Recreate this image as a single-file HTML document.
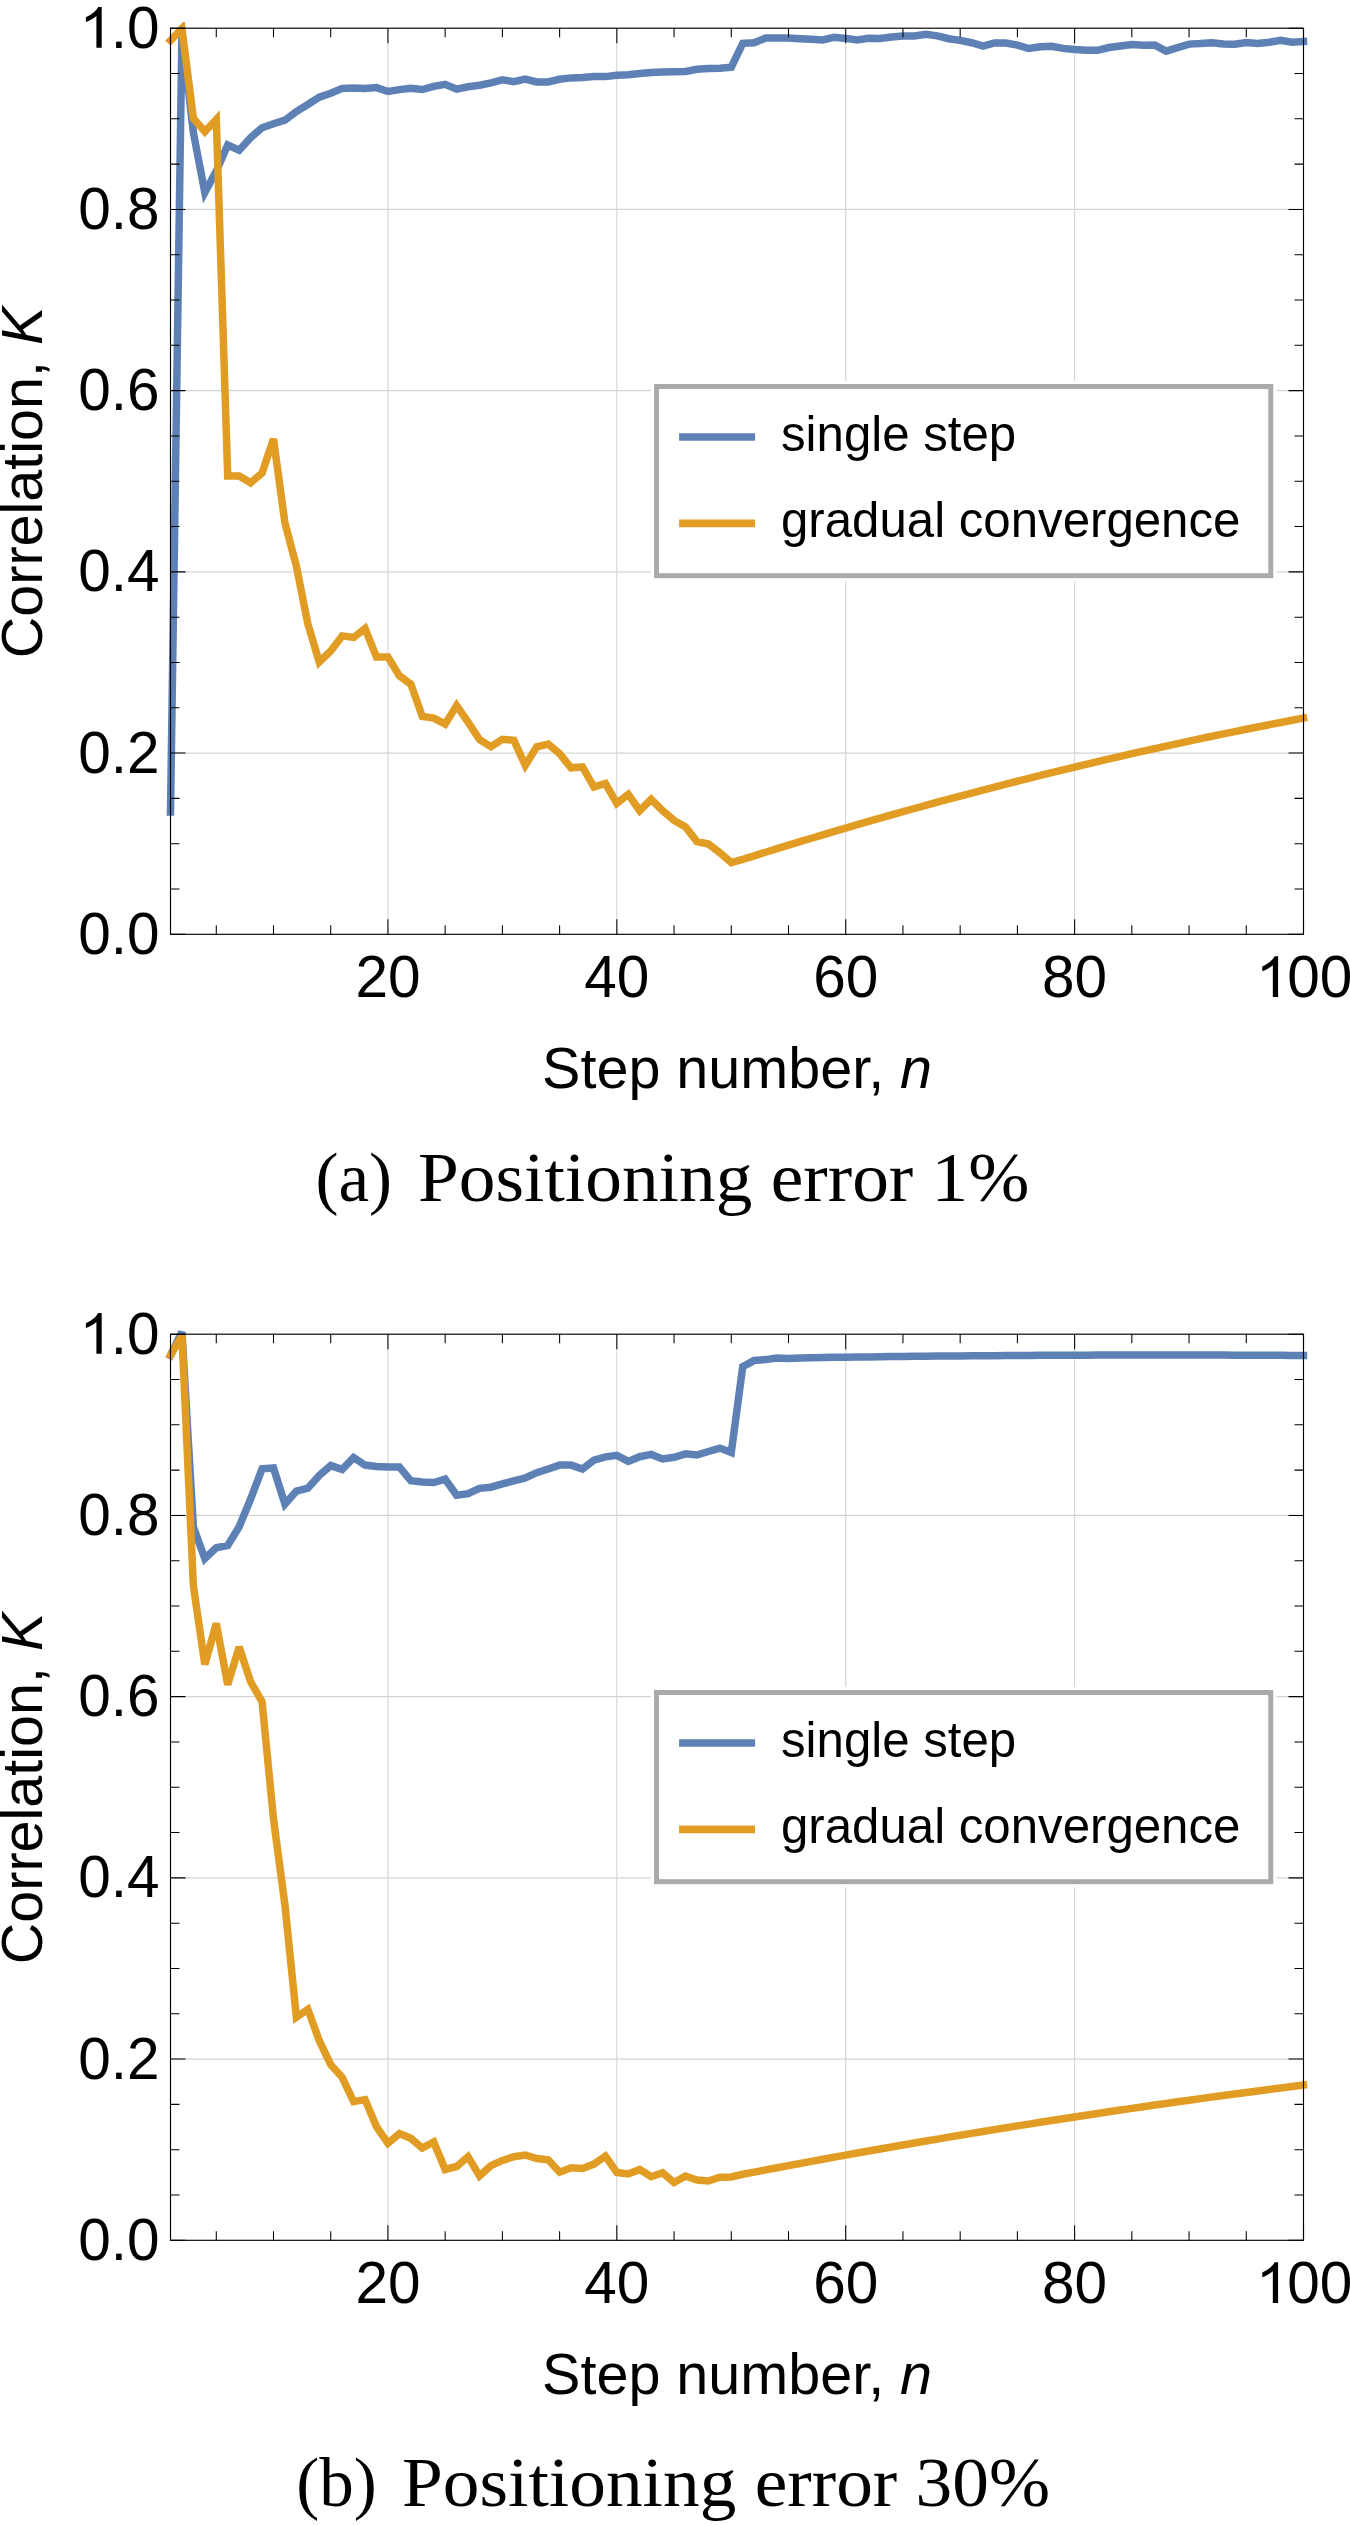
<!DOCTYPE html>
<html><head><meta charset="utf-8"><style>
html,body{margin:0;padding:0;background:#fff;}
body{width:1350px;height:2525px;overflow:hidden;}
svg{display:block;}
.g{stroke:#d4d4d4;stroke-width:1.1;fill:none;}
.d{fill:none;stroke-width:7.5;stroke-linejoin:miter;stroke-miterlimit:3;stroke-linecap:square;}
.t{stroke:#000;stroke-width:1.05;fill:none;}
.f{stroke:#000;stroke-width:1.15;fill:none;}
.tl{font-family:"Liberation Sans",sans-serif;font-size:58.5px;fill:#000;}
.al{font-family:"Liberation Sans",sans-serif;font-size:57.5px;fill:#000;}
.lg{font-family:"Liberation Sans",sans-serif;font-size:49.2px;fill:#000;}
.cp{font-family:"Liberation Serif",serif;font-size:69px;fill:#000;}
</style></head><body>
<svg width="1350" height="2525" viewBox="0 0 1350 2525">
<rect width="1350" height="2525" fill="#fff"/>
<line x1="387.94" y1="28.20" x2="387.94" y2="934.30" class="g"/>
<line x1="616.83" y1="28.20" x2="616.83" y2="934.30" class="g"/>
<line x1="845.72" y1="28.20" x2="845.72" y2="934.30" class="g"/>
<line x1="1074.61" y1="28.20" x2="1074.61" y2="934.30" class="g"/>
<line x1="170.50" y1="753.08" x2="1303.50" y2="753.08" class="g"/>
<line x1="170.50" y1="571.86" x2="1303.50" y2="571.86" class="g"/>
<line x1="170.50" y1="390.64" x2="1303.50" y2="390.64" class="g"/>
<line x1="170.50" y1="209.42" x2="1303.50" y2="209.42" class="g"/>
<rect x="651.00" y="381.00" width="625.30" height="200.20" fill="#fff"/>
<path d="M170.50,812.00 L181.94,33.00 L193.39,132.80 L204.83,192.40 L216.28,171.00 L227.72,145.00 L239.17,150.20 L250.61,137.80 L262.06,127.80 L273.50,123.70 L284.94,120.20 L296.39,111.50 L307.83,104.50 L319.28,97.20 L330.72,93.20 L342.17,88.40 L353.61,88.10 L365.06,88.50 L376.50,87.60 L387.94,91.50 L399.39,89.60 L410.83,88.30 L422.28,89.50 L433.72,86.40 L445.17,84.30 L456.61,89.10 L468.06,86.80 L479.50,85.20 L490.94,82.90 L502.39,79.90 L513.83,81.60 L525.28,79.00 L536.72,82.00 L548.17,82.00 L559.61,79.30 L571.06,77.90 L582.50,77.60 L593.94,76.50 L605.39,76.60 L616.83,75.20 L628.28,74.80 L639.72,73.50 L651.17,72.50 L662.61,72.10 L674.06,71.70 L685.50,71.50 L696.94,69.20 L708.39,68.50 L719.83,68.30 L731.28,67.20 L742.72,43.30 L754.17,42.80 L765.61,38.10 L777.06,37.90 L788.50,37.90 L799.94,38.70 L811.39,39.30 L822.83,39.90 L834.28,37.20 L845.72,38.40 L857.17,39.90 L868.61,38.20 L880.06,38.40 L891.50,37.00 L902.94,36.10 L914.39,35.90 L925.83,34.20 L937.28,35.90 L948.72,38.70 L960.17,40.40 L971.61,42.70 L983.06,46.20 L994.50,42.90 L1005.94,43.10 L1017.39,45.10 L1028.83,48.50 L1040.28,46.80 L1051.72,46.20 L1063.17,48.40 L1074.61,49.60 L1086.06,50.30 L1097.50,50.30 L1108.94,47.50 L1120.39,46.00 L1131.83,44.50 L1143.28,45.30 L1154.72,45.10 L1166.17,51.10 L1177.61,47.70 L1189.06,44.10 L1200.50,43.60 L1211.94,42.80 L1223.39,44.10 L1234.83,44.30 L1246.28,42.60 L1257.72,43.60 L1269.17,42.30 L1280.61,40.20 L1292.06,42.30 L1303.50,41.50" class="d" stroke="#5e81b5"/>
<clipPath id="cpa"><path clip-rule="evenodd" d="M0,0H1350V2525H0Z M176,0H190V22.1H176Z"/></clipPath>
<path d="M170.50,40.50 L181.94,28.50 L193.39,118.30 L204.83,131.70 L216.28,119.40 L227.72,476.10 L239.17,476.10 L250.61,482.80 L262.06,473.00 L273.50,439.00 L284.94,523.00 L296.39,566.20 L307.83,623.90 L319.28,662.00 L330.72,651.00 L342.17,635.90 L353.61,637.40 L365.06,628.50 L376.50,657.10 L387.94,657.10 L399.39,675.90 L410.83,684.10 L422.28,716.40 L433.72,718.10 L445.17,724.10 L456.61,705.60 L468.06,722.10 L479.50,739.60 L490.94,746.60 L502.39,739.30 L513.83,740.30 L525.28,765.40 L536.72,746.90 L548.17,744.10 L559.61,753.70 L571.06,767.80 L582.50,766.90 L593.94,787.00 L605.39,783.50 L616.83,803.30 L628.28,794.40 L639.72,810.70 L651.17,799.30 L662.61,810.70 L674.06,820.40 L685.50,826.90 L696.94,841.50 L708.39,844.00 L719.83,852.70 L731.28,862.60 L742.72,859.42 L754.17,855.81 L765.61,852.24 L777.06,848.69 L788.50,845.18 L799.94,841.69 L811.39,838.24 L822.83,834.81 L834.28,831.42 L845.72,828.05 L857.17,824.72 L868.61,821.41 L880.06,818.14 L891.50,814.90 L902.94,811.68 L914.39,808.50 L925.83,805.34 L937.28,802.22 L948.72,799.12 L960.17,796.06 L971.61,793.03 L983.06,790.02 L994.50,787.05 L1005.94,784.11 L1017.39,781.19 L1028.83,778.31 L1040.28,775.45 L1051.72,772.63 L1063.17,769.84 L1074.61,767.07 L1086.06,764.34 L1097.50,761.64 L1108.94,758.97 L1120.39,756.32 L1131.83,753.71 L1143.28,751.13 L1154.72,748.57 L1166.17,746.05 L1177.61,743.56 L1189.06,741.10 L1200.50,738.66 L1211.94,736.26 L1223.39,733.89 L1234.83,731.55 L1246.28,729.24 L1257.72,726.95 L1269.17,724.70 L1280.61,722.48 L1292.06,720.29 L1303.50,718.13" class="d" stroke="#e19c24" clip-path="url(#cpa)"/>
<rect x="656.50" y="386.50" width="614.30" height="189.20" fill="#fff" stroke="#aaaaaa" stroke-width="5"/>
<line x1="679.1" y1="437.00" x2="755.1" y2="437.00" stroke="#5e81b5" stroke-width="7.6"/>
<line x1="679.1" y1="523.40" x2="755.1" y2="523.40" stroke="#e19c24" stroke-width="7.6"/>
<text x="781" y="451.20" class="lg">single step</text>
<text x="781" y="537.10" class="lg">gradual convergence</text>
<path d="M216.28,934.30v-9.00M216.28,28.20v9.00M273.50,934.30v-9.00M273.50,28.20v9.00M330.72,934.30v-9.00M330.72,28.20v9.00M387.94,934.30v-15.00M387.94,28.20v15.00M445.17,934.30v-9.00M445.17,28.20v9.00M502.39,934.30v-9.00M502.39,28.20v9.00M559.61,934.30v-9.00M559.61,28.20v9.00M616.83,934.30v-15.00M616.83,28.20v15.00M674.06,934.30v-9.00M674.06,28.20v9.00M731.28,934.30v-9.00M731.28,28.20v9.00M788.50,934.30v-9.00M788.50,28.20v9.00M845.72,934.30v-15.00M845.72,28.20v15.00M902.94,934.30v-9.00M902.94,28.20v9.00M960.17,934.30v-9.00M960.17,28.20v9.00M1017.39,934.30v-9.00M1017.39,28.20v9.00M1074.61,934.30v-15.00M1074.61,28.20v15.00M1131.83,934.30v-9.00M1131.83,28.20v9.00M1189.06,934.30v-9.00M1189.06,28.20v9.00M1246.28,934.30v-9.00M1246.28,28.20v9.00M1303.50,934.30v-15.00M1303.50,28.20v15.00M170.50,934.30h15.00M1303.50,934.30h-15.00M170.50,889.00h9.00M1303.50,889.00h-9.00M170.50,843.69h9.00M1303.50,843.69h-9.00M170.50,798.38h9.00M1303.50,798.38h-9.00M170.50,753.08h15.00M1303.50,753.08h-15.00M170.50,707.77h9.00M1303.50,707.77h-9.00M170.50,662.47h9.00M1303.50,662.47h-9.00M170.50,617.16h9.00M1303.50,617.16h-9.00M170.50,571.86h15.00M1303.50,571.86h-15.00M170.50,526.56h9.00M1303.50,526.56h-9.00M170.50,481.25h9.00M1303.50,481.25h-9.00M170.50,435.94h9.00M1303.50,435.94h-9.00M170.50,390.64h15.00M1303.50,390.64h-15.00M170.50,345.34h9.00M1303.50,345.34h-9.00M170.50,300.03h9.00M1303.50,300.03h-9.00M170.50,254.73h9.00M1303.50,254.73h-9.00M170.50,209.42h15.00M1303.50,209.42h-15.00M170.50,164.11h9.00M1303.50,164.11h-9.00M170.50,118.81h9.00M1303.50,118.81h-9.00M170.50,73.50h9.00M1303.50,73.50h-9.00M170.50,28.20h15.00M1303.50,28.20h-15.00" class="t"/>
<rect x="170.50" y="28.20" width="1133.00" height="906.10" class="f"/>
<text x="159.6" y="953.90" class="tl" text-anchor="end">0.0</text>
<text x="159.6" y="772.68" class="tl" text-anchor="end">0.2</text>
<text x="159.6" y="591.46" class="tl" text-anchor="end">0.4</text>
<text x="159.6" y="410.24" class="tl" text-anchor="end">0.6</text>
<text x="159.6" y="229.02" class="tl" text-anchor="end">0.8</text>
<path d="M101.68,47.80L96.41,47.80L96.41,16.09Q94.51,17.80 91.41,19.51Q88.33,21.23 85.88,22.09L85.88,17.27Q90.29,15.31 93.60,12.52Q96.91,9.73 98.28,7.10L101.68,7.10Z" fill="#000"/>
<text x="110.81" y="47.80" class="tl">.0</text>
<text x="387.94" y="997.00" class="tl" text-anchor="middle">20</text>
<text x="616.83" y="997.00" class="tl" text-anchor="middle">40</text>
<text x="845.72" y="997.00" class="tl" text-anchor="middle">60</text>
<text x="1074.61" y="997.00" class="tl" text-anchor="middle">80</text>
<path d="M1278.10,997.00L1272.83,997.00L1272.83,965.29Q1270.93,967.00 1267.83,968.71Q1264.76,970.43 1262.30,971.29L1262.30,966.47Q1266.72,964.51 1270.02,961.72Q1273.33,958.93 1274.70,956.30L1278.10,956.30Z" fill="#000"/>
<text x="1287.23" y="997.00" class="tl">00</text>
<text x="737.1" y="1088.00" class="al" text-anchor="middle">Step number, <tspan font-style="italic">n</tspan></text>
<text transform="translate(41.7,482.40) rotate(-90)" class="al" text-anchor="middle">Correlation, <tspan font-style="italic">K</tspan></text>
<text x="315.50" y="1201.1" class="cp">(a)</text><text transform="translate(418.00,1201.1) scale(1.0635,1)" class="cp">Positioning error 1%</text>
<line x1="387.94" y1="1334.20" x2="387.94" y2="2240.30" class="g"/>
<line x1="616.83" y1="1334.20" x2="616.83" y2="2240.30" class="g"/>
<line x1="845.72" y1="1334.20" x2="845.72" y2="2240.30" class="g"/>
<line x1="1074.61" y1="1334.20" x2="1074.61" y2="2240.30" class="g"/>
<line x1="170.50" y1="2059.08" x2="1303.50" y2="2059.08" class="g"/>
<line x1="170.50" y1="1877.86" x2="1303.50" y2="1877.86" class="g"/>
<line x1="170.50" y1="1696.64" x2="1303.50" y2="1696.64" class="g"/>
<line x1="170.50" y1="1515.42" x2="1303.50" y2="1515.42" class="g"/>
<rect x="651.00" y="1687.00" width="625.30" height="200.20" fill="#fff"/>
<path d="M170.50,1355.50 L181.94,1332.00 L193.39,1527.00 L204.83,1558.60 L216.28,1547.80 L227.72,1545.50 L239.17,1526.70 L250.61,1499.00 L262.06,1468.80 L273.50,1468.00 L284.94,1504.00 L296.39,1491.00 L307.83,1488.20 L319.28,1475.50 L330.72,1465.60 L342.17,1469.40 L353.61,1457.60 L365.06,1465.10 L376.50,1466.40 L387.94,1466.90 L399.39,1466.90 L410.83,1480.80 L422.28,1482.10 L433.72,1482.60 L445.17,1479.20 L456.61,1495.20 L468.06,1493.70 L479.50,1488.30 L490.94,1487.20 L502.39,1483.80 L513.83,1480.90 L525.28,1478.00 L536.72,1472.70 L548.17,1469.00 L559.61,1465.10 L571.06,1465.10 L582.50,1469.00 L593.94,1460.10 L605.39,1456.90 L616.83,1455.40 L628.28,1461.40 L639.72,1456.70 L651.17,1454.40 L662.61,1459.00 L674.06,1457.30 L685.50,1453.80 L696.94,1455.00 L708.39,1451.50 L719.83,1448.10 L731.28,1452.60 L742.72,1366.70 L754.17,1360.40 L765.61,1359.60 L777.06,1358.00 L788.50,1358.40 L799.94,1358.00 L811.39,1357.71 L822.83,1357.54 L834.28,1357.37 L845.72,1357.21 L857.17,1357.05 L868.61,1356.90 L880.06,1356.76 L891.50,1356.62 L902.94,1356.49 L914.39,1356.36 L925.83,1356.24 L937.28,1356.12 L948.72,1356.01 L960.17,1355.91 L971.61,1355.81 L983.06,1355.72 L994.50,1355.63 L1005.94,1355.55 L1017.39,1355.47 L1028.83,1355.40 L1040.28,1355.34 L1051.72,1355.28 L1063.17,1355.23 L1074.61,1355.18 L1086.06,1355.14 L1097.50,1355.11 L1108.94,1355.08 L1120.39,1355.05 L1131.83,1355.03 L1143.28,1355.02 L1154.72,1355.01 L1166.17,1355.01 L1177.61,1355.02 L1189.06,1355.03 L1200.50,1355.04 L1211.94,1355.07 L1223.39,1355.09 L1234.83,1355.13 L1246.28,1355.17 L1257.72,1355.21 L1269.17,1355.26 L1280.61,1355.32 L1292.06,1355.38 L1303.50,1355.45" class="d" stroke="#5e81b5"/>
<path d="M170.50,1355.50 L181.94,1335.50 L193.39,1585.90 L204.83,1664.50 L216.28,1623.50 L227.72,1684.70 L239.17,1647.00 L250.61,1681.80 L262.06,1701.60 L273.50,1819.00 L284.94,1905.00 L296.39,2017.30 L307.83,2009.30 L319.28,2040.70 L330.72,2064.70 L342.17,2077.30 L353.61,2101.60 L365.06,2099.60 L376.50,2126.70 L387.94,2143.30 L399.39,2133.60 L410.83,2138.30 L422.28,2148.00 L433.72,2142.00 L445.17,2169.50 L456.61,2166.50 L468.06,2156.70 L479.50,2175.90 L490.94,2165.60 L502.39,2160.40 L513.83,2156.70 L525.28,2155.00 L536.72,2158.60 L548.17,2159.80 L559.61,2172.20 L571.06,2167.80 L582.50,2168.50 L593.94,2164.10 L605.39,2156.20 L616.83,2172.50 L628.28,2174.00 L639.72,2169.50 L651.17,2176.70 L662.61,2172.80 L674.06,2182.50 L685.50,2176.00 L696.94,2180.00 L708.39,2181.00 L719.83,2177.30 L731.28,2176.90 L742.72,2174.26 L754.17,2172.06 L765.61,2169.89 L777.06,2167.72 L788.50,2165.58 L799.94,2163.45 L811.39,2161.33 L822.83,2159.23 L834.28,2157.15 L845.72,2155.08 L857.17,2153.02 L868.61,2150.99 L880.06,2148.96 L891.50,2146.96 L902.94,2144.97 L914.39,2142.99 L925.83,2141.03 L937.28,2139.08 L948.72,2137.15 L960.17,2135.24 L971.61,2133.34 L983.06,2131.46 L994.50,2129.59 L1005.94,2127.74 L1017.39,2125.90 L1028.83,2124.08 L1040.28,2122.28 L1051.72,2120.49 L1063.17,2118.71 L1074.61,2116.95 L1086.06,2115.21 L1097.50,2113.48 L1108.94,2111.77 L1120.39,2110.07 L1131.83,2108.39 L1143.28,2106.72 L1154.72,2105.07 L1166.17,2103.44 L1177.61,2101.82 L1189.06,2100.21 L1200.50,2098.63 L1211.94,2097.05 L1223.39,2095.49 L1234.83,2093.95 L1246.28,2092.43 L1257.72,2090.91 L1269.17,2089.42 L1280.61,2087.94 L1292.06,2086.47 L1303.50,2085.03" class="d" stroke="#e19c24"/>
<rect x="656.50" y="1692.50" width="614.30" height="189.20" fill="#fff" stroke="#aaaaaa" stroke-width="5"/>
<line x1="679.1" y1="1743.00" x2="755.1" y2="1743.00" stroke="#5e81b5" stroke-width="7.6"/>
<line x1="679.1" y1="1829.40" x2="755.1" y2="1829.40" stroke="#e19c24" stroke-width="7.6"/>
<text x="781" y="1757.20" class="lg">single step</text>
<text x="781" y="1843.10" class="lg">gradual convergence</text>
<path d="M216.28,2240.30v-9.00M216.28,1334.20v9.00M273.50,2240.30v-9.00M273.50,1334.20v9.00M330.72,2240.30v-9.00M330.72,1334.20v9.00M387.94,2240.30v-15.00M387.94,1334.20v15.00M445.17,2240.30v-9.00M445.17,1334.20v9.00M502.39,2240.30v-9.00M502.39,1334.20v9.00M559.61,2240.30v-9.00M559.61,1334.20v9.00M616.83,2240.30v-15.00M616.83,1334.20v15.00M674.06,2240.30v-9.00M674.06,1334.20v9.00M731.28,2240.30v-9.00M731.28,1334.20v9.00M788.50,2240.30v-9.00M788.50,1334.20v9.00M845.72,2240.30v-15.00M845.72,1334.20v15.00M902.94,2240.30v-9.00M902.94,1334.20v9.00M960.17,2240.30v-9.00M960.17,1334.20v9.00M1017.39,2240.30v-9.00M1017.39,1334.20v9.00M1074.61,2240.30v-15.00M1074.61,1334.20v15.00M1131.83,2240.30v-9.00M1131.83,1334.20v9.00M1189.06,2240.30v-9.00M1189.06,1334.20v9.00M1246.28,2240.30v-9.00M1246.28,1334.20v9.00M1303.50,2240.30v-15.00M1303.50,1334.20v15.00M170.50,2240.30h15.00M1303.50,2240.30h-15.00M170.50,2195.00h9.00M1303.50,2195.00h-9.00M170.50,2149.69h9.00M1303.50,2149.69h-9.00M170.50,2104.39h9.00M1303.50,2104.39h-9.00M170.50,2059.08h15.00M1303.50,2059.08h-15.00M170.50,2013.78h9.00M1303.50,2013.78h-9.00M170.50,1968.47h9.00M1303.50,1968.47h-9.00M170.50,1923.16h9.00M1303.50,1923.16h-9.00M170.50,1877.86h15.00M1303.50,1877.86h-15.00M170.50,1832.56h9.00M1303.50,1832.56h-9.00M170.50,1787.25h9.00M1303.50,1787.25h-9.00M170.50,1741.95h9.00M1303.50,1741.95h-9.00M170.50,1696.64h15.00M1303.50,1696.64h-15.00M170.50,1651.34h9.00M1303.50,1651.34h-9.00M170.50,1606.03h9.00M1303.50,1606.03h-9.00M170.50,1560.73h9.00M1303.50,1560.73h-9.00M170.50,1515.42h15.00M1303.50,1515.42h-15.00M170.50,1470.12h9.00M1303.50,1470.12h-9.00M170.50,1424.81h9.00M1303.50,1424.81h-9.00M170.50,1379.51h9.00M1303.50,1379.51h-9.00M170.50,1334.20h15.00M1303.50,1334.20h-15.00" class="t"/>
<rect x="170.50" y="1334.20" width="1133.00" height="906.10" class="f"/>
<text x="159.6" y="2259.90" class="tl" text-anchor="end">0.0</text>
<text x="159.6" y="2078.68" class="tl" text-anchor="end">0.2</text>
<text x="159.6" y="1897.46" class="tl" text-anchor="end">0.4</text>
<text x="159.6" y="1716.24" class="tl" text-anchor="end">0.6</text>
<text x="159.6" y="1535.02" class="tl" text-anchor="end">0.8</text>
<path d="M101.68,1353.80L96.41,1353.80L96.41,1322.09Q94.51,1323.80 91.41,1325.51Q88.33,1327.23 85.88,1328.09L85.88,1323.27Q90.29,1321.31 93.60,1318.52Q96.91,1315.73 98.28,1313.10L101.68,1313.10Z" fill="#000"/>
<text x="110.81" y="1353.80" class="tl">.0</text>
<text x="387.94" y="2303.00" class="tl" text-anchor="middle">20</text>
<text x="616.83" y="2303.00" class="tl" text-anchor="middle">40</text>
<text x="845.72" y="2303.00" class="tl" text-anchor="middle">60</text>
<text x="1074.61" y="2303.00" class="tl" text-anchor="middle">80</text>
<path d="M1278.10,2303.00L1272.83,2303.00L1272.83,2271.29Q1270.93,2273.00 1267.83,2274.71Q1264.76,2276.43 1262.30,2277.29L1262.30,2272.47Q1266.72,2270.51 1270.02,2267.72Q1273.33,2264.93 1274.70,2262.30L1278.10,2262.30Z" fill="#000"/>
<text x="1287.23" y="2303.00" class="tl">00</text>
<text x="737.1" y="2394.00" class="al" text-anchor="middle">Step number, <tspan font-style="italic">n</tspan></text>
<text transform="translate(41.7,1788.40) rotate(-90)" class="al" text-anchor="middle">Correlation, <tspan font-style="italic">K</tspan></text>
<text x="296.30" y="2506.2" class="cp">(b)</text><text transform="translate(402.00,2506.2) scale(1.0635,1)" class="cp">Positioning error 30%</text>
</svg>
</body></html>
